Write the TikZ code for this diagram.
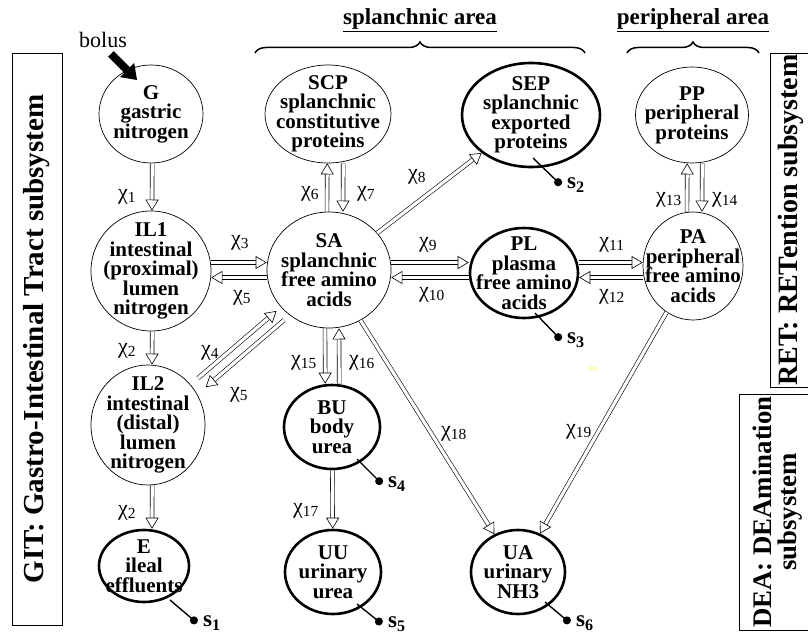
\documentclass[tikz,border=0pt]{standalone}
\usepackage{fontspec}
\setmainfont{Liberation Serif}
\usetikzlibrary{arrows.meta}
\usetikzlibrary{positioning}
\usetikzlibrary{shapes.geometric}
\usetikzlibrary{decorations.pathreplacing}
\newcommand{\flux}[1]{χ\textsubscript{#1}}
\newcommand{\outlet}[1]{s\textsubscript{#1}}

\begin{document}
\begin{tikzpicture}[x=1pt, y=-1pt,
		comp/.style={ellipse, draw, line width=0.7pt, inner sep=-14pt, align=center, font=\fontsize{21}{19.5}\selectfont\bfseries},
		outcomp/.style={comp, line width=2.6pt},
		flow/.style={double, double distance=3.2pt, line width=0.6pt, -{Triangle[open, length=11pt, width=13pt]}},
		rate/.style={font=\fontsize{22}{22}\selectfont, inner sep=0pt},
		loss/.style={line width=1.4pt, -{Circle[length=8pt]}},
		sname/.style={font=\fontsize{23}{23}\selectfont\bfseries, inner sep=0pt},
		subsys/.style={draw, line width=0.8pt, rotate=90, align=center, inner sep=0pt, font=\fontsize{28}{26}\selectfont\bfseries},
		area/.style={font=\fontsize{23}{23}\selectfont\bfseries},
		areabrace/.style={decorate, decoration={brace, amplitude=11pt}, line width=1.5pt}]
	\useasboundingbox (0,0) rectangle (808,636);
	%subsystems
	\node[subsys, minimum width=572pt, minimum height=50pt, font=\fontsize{29}{26}\selectfont\bfseries] (GIT) at (37,339) {GIT: Gastro-Intestinal Tract subsystem};
	\node[subsys, minimum width=334pt, minimum height=42pt] (RET) at (791,220) {RET: RETention subsystem};
	\node[subsys, minimum width=236pt, minimum height=78pt, font=\fontsize{26.8}{25}\selectfont\bfseries] (DEA) at (778,512) {DEA: DEAmination\\subsystem};
	%areas
	\node[area] (splanch) at (420,20) {\underline{splanchnic area}};
	\node[area] (periph) at (693,20) {\underline{peripheral area}};
	\draw[areabrace] (255,53) -- (585,53);
	\draw[areabrace] (627,53) -- (759,53);
	%compartments
	\node[comp, minimum width=104pt, minimum height=98pt] (G) at (151,114) {G\\gastric\\nitrogen};
	\node[comp, minimum width=120pt, minimum height=120pt] (IL1) at (151,271) {IL1\\intestinal\\(proximal)\\lumen\\nitrogen};
	\node[comp, minimum width=114pt, minimum height=120pt] (IL2) at (148,425) {IL2\\intestinal\\(distal)\\lumen\\nitrogen};
	\node[outcomp, minimum width=90pt, minimum height=72pt] (E) at (144,566) {E\\ileal\\effluents};
	\node[comp, minimum width=126pt, minimum height=98pt] (SCP) at (328,114) {SCP\\splanchnic\\constitutive\\proteins};
	\node[comp, minimum width=124pt, minimum height=116pt] (SA) at (329,270) {SA\\splanchnic\\free amino\\acids};
	\node[outcomp, minimum width=138pt, minimum height=104pt] (SEP) at (531,115) {SEP\\splanchnic\\exported\\proteins};
	\node[outcomp, minimum width=108pt, minimum height=90pt] (PL) at (524,273) {PL\\plasma\\free amino\\acids};
	\node[comp, minimum width=113pt, minimum height=96pt] (PP) at (692,115) {PP\\peripheral\\proteins};
	\node[comp, minimum width=100pt, minimum height=108pt] (PA) at (693,266) {PA\\peripheral\\free amino\\acids};
	\node[outcomp, minimum width=96pt, minimum height=84pt] (BU) at (332,427) {BU\\body\\urea};
	\node[outcomp, minimum width=96pt, minimum height=84pt] (UU) at (333,572) {UU\\urinary\\urea};
	\node[outcomp, minimum width=94pt, minimum height=84pt] (UA) at (518,572) {UA\\urinary\\NH3};
	%bolus input
	\node[font=\fontsize{22}{22}\selectfont] (bolus) at (103,40) {bolus};
	\draw[line width=8pt, -{Triangle[length=14pt, width=20pt, line width=0pt]}] ([shift={(8,14)}]bolus.center) -- ([shift={(-14,-34)}]G.center);
	%fluxes
	\draw[flow] ([xshift=1.2pt]G.south) -- ([xshift=1pt]IL1.north);
	\draw[flow] ([xshift=1.2pt]IL1.south) -- ([xshift=4pt]IL2.north);
	\draw[flow] ([xshift=4.2pt]IL2.south) -- ([xshift=8pt]E.north);
	\draw[flow] ([yshift=8.5pt]IL1.east) -- ([yshift=7.5pt]SA.west);
	\draw[flow] ([yshift=-7.5pt]SA.west) -- ([yshift=-6.5pt]IL1.east);
	\draw[flow, transform canvas={shift={(-2pt,2.3pt)}}, shorten <=10pt, shorten >=6pt] (IL2) -- (SA);
	\draw[flow, transform canvas={shift={(5.7pt,-6.7pt)}}, shorten <=6pt, shorten >=10pt] (SA) -- (IL2);
	\draw[flow] ([xshift=-2pt]SA.north) -- ([xshift=-0.8pt]SCP.south);
	\draw[flow] ([xshift=15.2pt]SCP.south) -- ([xshift=14pt]SA.north);
	\draw[flow] (SA) -- (SEP);
	\draw[flow] ([yshift=7.5pt]SA.east) -- ([yshift=10.5pt]PL.west);
	\draw[flow] ([yshift=-4.5pt]PL.west) -- ([yshift=-7.5pt]SA.east);
	\draw[flow] ([yshift=10.5pt]PL.east) -- ([yshift=3.5pt]PA.west);
	\draw[flow] ([yshift=-11.5pt]PA.west) -- ([yshift=-4.5pt]PL.east);
	\draw[flow] ([xshift=-6pt]PA.north) -- ([xshift=-4.8pt]PP.south);
	\draw[flow] ([xshift=10.2pt]PP.south) -- ([xshift=9pt]PA.north);
	\draw[flow] ([xshift=-4pt]SA.south) -- ([xshift=-6.8pt]BU.north);
	\draw[flow] ([xshift=7.2pt]BU.north) -- ([xshift=10pt]SA.south);
	\draw[flow] (BU) -- (UU);
	\draw[flow] (SA) -- (UA);
	\draw[flow] (PA) -- (UA);
	%flux names
	\node[rate] (r1) at (127,197) {\flux{1}};
	\node[rate] (r2a) at (127,351) {\flux{2}};
	\node[rate] (r2b) at (127,513) {\flux{2}};
	\node[rate] (r3) at (240,243) {\flux{3}};
	\node[rate] (r5a) at (242,298) {\flux{5}};
	\node[rate] (r4) at (210,353) {\flux{4}};
	\node[rate] (r5b) at (239,395) {\flux{5}};
	\node[rate] (r6) at (310,194) {\flux{6}};
	\node[rate] (r7) at (366,194) {\flux{7}};
	\node[rate] (r8) at (417,177) {\flux{8}};
	\node[rate] (r9) at (428,245) {\flux{9}};
	\node[rate] (r10) at (432,295) {\flux{10}};
	\node[rate] (r11) at (612,245) {\flux{11}};
	\node[rate] (r12) at (612,297) {\flux{12}};
	\node[rate] (r13) at (669,200) {\flux{13}};
	\node[rate] (r14) at (725,200) {\flux{14}};
	\node[rate] (r15) at (304,363) {\flux{15}};
	\node[rate] (r16) at (362,363) {\flux{16}};
	\node[rate] (r17) at (306,511) {\flux{17}};
	\node[rate] (r18) at (454,434) {\flux{18}};
	\node[rate] (r19) at (579,432) {\flux{19}};
	%outputs
	\coordinate (d1) at (197,623);
	\coordinate (d2) at (561,185);
	\coordinate (d3) at (561,340);
	\coordinate (d4) at (382,484);
	\coordinate (d5) at (382,624);
	\coordinate (d6) at (570,623);
	\draw[loss] ([shift={(26,34)}]E.center) -- (d1);
	\draw[loss] ([shift={(2,43)}]SEP.center) -- (d2);
	\draw[loss] ([shift={(11,40)}]PL.center) -- (d3);
	\draw[loss] ([shift={(25,32)}]BU.center) -- (d4);
	\draw[loss] ([shift={(24,32)}]UU.center) -- (d5);
	\draw[loss] ([shift={(27,30)}]UA.center) -- (d6);
	\node[sname, right=6pt of d1] (s1) {\outlet{1}};
	\node[sname, right=6pt of d2] (s2) {\outlet{2}};
	\node[sname, right=6pt of d3] (s3) {\outlet{3}};
	\node[sname, right=6pt of d4] (s4) {\outlet{4}};
	\node[sname, right=6pt of d5] (s5) {\outlet{5}};
	\node[sname, right=6pt of d6] (s6) {\outlet{6}};
	%stray mark
	\fill[yellow!20] (588,366) rectangle (598,371);
\end{tikzpicture}
\end{document}
